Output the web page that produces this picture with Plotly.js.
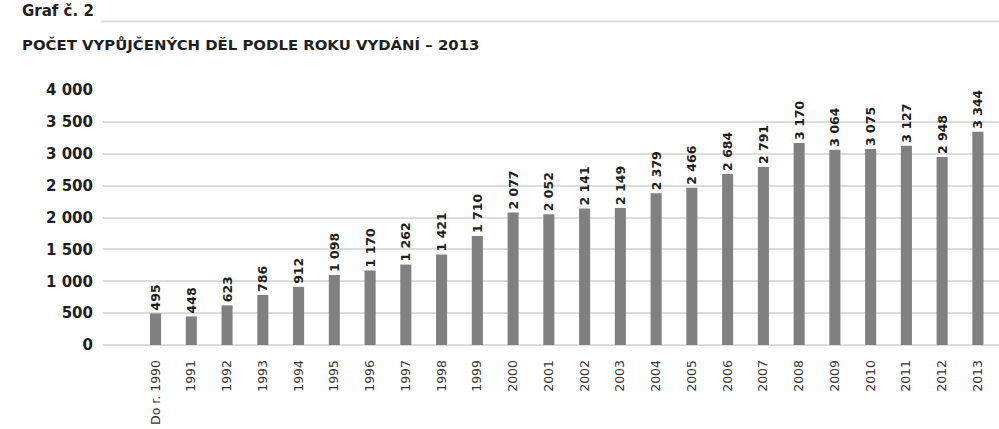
<!DOCTYPE html>
<html>
<head>
<meta charset="utf-8">
<script src="https://cdn.plot.ly/plotly-3.0.1.min.js"></script>
<style>html,body{margin:0;padding:0;background:#fff;}#chart{width:999px;height:429px;}</style>
</head>
<body>
<div id="chart"></div>
<script>
const categories = ["Do r. 1990","1991","1992","1993","1994","1995","1996","1997","1998","1999","2000","2001","2002","2003","2004","2005","2006","2007","2008","2009","2010","2011","2012","2013"];
const values = [495,448,623,786,912,1098,1170,1262,1421,1710,2077,2052,2141,2149,2379,2466,2684,2791,3170,3064,3075,3127,2948,3344];
const yTickVals = [0,500,1000,1500,2000,2500,3000,3500,4000];
const yTickText = ["0","500","1 000","1 500","2 000","2 500","3 000","3 500","4 000"];
const graphLabel = "Graf č. 2";
const chartTitle = "POČET VYPŮJČENÝCH DĚL PODLE ROKU VYDÁNÍ – 2013";

const boldFont = "'DejaVu Sans', Arial, sans-serif";

const trace = {
  type: "bar",
  x: categories.map((c,i)=>i),
  y: values,
  width: 0.31,
  marker: {color: "#808080"},
  texttemplate: "%{y:,d}",
  textposition: "outside",
  textangle: -90,
  constraintext: "none",
  cliponaxis: false,
  textfont: {family: boldFont, size: 12.5, color: "#1e1e1e", weight: "bold"},
  hoverinfo: "none"
};

const layout = {
  width: 999, height: 429,
  margin: {l: 103, r: 0, t: 90, b: 84},
  paper_bgcolor: "#fff", plot_bgcolor: "#fff",
  separators: ", ",
  showlegend: false,
  xaxis: {
    range: [-1.47, 23.59],
    tickvals: categories.map((c,i)=>i),
    ticktext: categories,
    tickangle: -90,
    ticks: "outside", ticklen: 9, tickcolor: "rgba(0,0,0,0)",
    showgrid: false, zeroline: false, showline: false,
    tickfont: {family: "'DejaVu Sans', Arial, sans-serif", size: 12.5, color: "#333333"}
  },
  yaxis: {
    range: [0, 4000],
    tickvals: yTickVals,
    ticktext: yTickText,
    ticks: "outside", ticklen: 6, tickcolor: "rgba(0,0,0,0)",
    showgrid: true, gridcolor: "#dcdcdc", gridwidth: 2,
    zeroline: true, zerolinecolor: "#dcdcdc", zerolinewidth: 2,
    showline: false,
    tickfont: {family: boldFont, size: 15, color: "#1e1e1e", weight: "bold"}
  },
  annotations: [
    {text: graphLabel, xref: "paper", yref: "paper", x: (20-103)/896, y: (345-11)/255,
     xanchor: "left", yanchor: "middle", showarrow: false,
     font: {family: boldFont, size: 15, color: "#1e1e1e", weight: "bold"}},
    {text: chartTitle, xref: "paper", yref: "paper", x: (20-103)/896, y: (345-45)/255,
     xanchor: "left", yanchor: "middle", showarrow: false,
     font: {family: boldFont, size: 14.9, color: "#1e1e1e", weight: "bold"}}
  ],
  shapes: [
    {type: "line", xref: "paper", yref: "paper", x0: (101-103)/896, x1: 1, y0: (345-21.5)/255, y1: (345-21.5)/255,
     line: {color: "#dcdcdc", width: 2}}
  ]
};

Plotly.newPlot("chart", [trace], layout, {displayModeBar: false, staticPlot: true});
</script>
</body>
</html>
